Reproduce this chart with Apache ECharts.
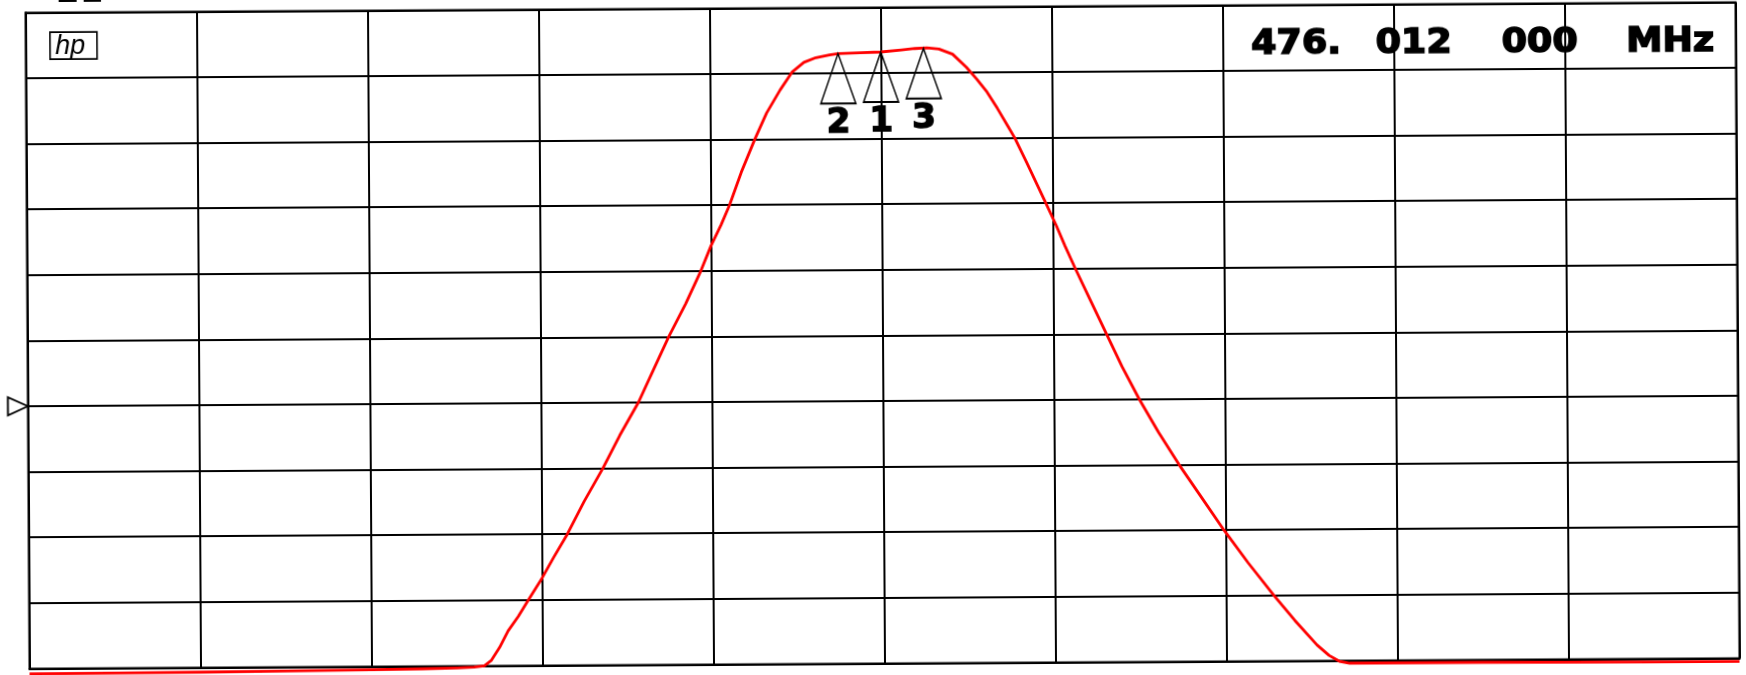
<!DOCTYPE html>
<html>
<head>
<meta charset="utf-8">
<script src="https://cdn.jsdelivr.net/npm/echarts@6/dist/echarts.min.js"></script>
<style>
html,body{margin:0;padding:0;background:#fff;overflow:hidden;width:1746px;height:675px;}
#c{position:absolute;left:-20px;top:-20px;width:1786px;height:715px;transform-origin:902.5px 355.4px;transform:rotate(-0.35deg);}
</style>
</head>
<body>
<div id="c"></div>
<script>
// Trace (x in horizontal divisions 0..10, y in vertical divisions 0..10)
var traceX = [0, 0.5, 1, 1.5, 2, 2.3, 2.5, 2.6, 2.66, 2.7, 2.75, 2.8, 2.86, 2.92, 3.0, 3.07, 3.15, 3.25, 3.36, 3.46, 3.57, 3.66, 3.75, 3.85, 3.94, 4.0, 4.06, 4.11, 4.18, 4.26, 4.33, 4.41, 4.48, 4.55, 4.62, 4.7, 4.75, 4.88, 5.0, 5.12, 5.2, 5.27, 5.34, 5.42, 5.5, 5.56, 5.62, 5.68, 5.74, 5.78, 5.85, 5.96, 6.02, 6.07, 6.13, 6.22, 6.31, 6.4, 6.5, 6.61, 6.73, 6.86, 6.99, 7.13, 7.28, 7.4, 7.53, 7.6, 7.66, 7.72, 8, 8.5, 9, 9.5, 10];
var traceY = [-0.08, -0.075, -0.07, -0.06, -0.05, -0.04, -0.03, -0.02, 0.0, 0.08, 0.28, 0.53, 0.75, 1.0, 1.33, 1.65, 2.0, 2.5, 3.0, 3.5, 4.0, 4.5, 5.0, 5.5, 6.0, 6.38, 6.7, 7.0, 7.5, 8.0, 8.4, 8.75, 9.02, 9.17, 9.24, 9.28, 9.30, 9.31, 9.32, 9.35, 9.37, 9.38, 9.36, 9.28, 9.08, 8.9, 8.7, 8.45, 8.18, 8.0, 7.62, 7.0, 6.66, 6.35, 6.0, 5.5, 5.0, 4.5, 4.0, 3.5, 3.0, 2.5, 2.0, 1.5, 1.0, 0.62, 0.24, 0.08, -0.01, -0.04, -0.04, -0.04, -0.045, -0.05, -0.05];

// Markers
var markerNames = ['2', '1', '3'];
var markerX = [4.75, 5.0, 5.25];
var markerY = [9.30, 9.32, 9.37];

// Reference level
var refLevel = 4;

// Axis extents (divisions)
var xMin = 0, xMax = 10, xStep = 1;
var yMin = 0, yMax = 10, yStep = 1;

// Annotation texts
var freqParts = ['476.', '012', '000', 'MHz'];
var topText = '21';
var logoText = 'hp';

var trace = traceX.map(function (x, i) { return [x, traceY[i]]; });
var markers = markerX.map(function (x, i) { return { name: markerNames[i], value: [x, markerY[i]] }; });

var chart = echarts.init(document.getElementById('c'), null, { renderer: 'canvas' });

var bigFont = 'bold 34px "DejaVu Sans"';
var freqX = [1273, 1397.5, 1523.5, 1648];

var graphics = [
  { type: 'text', x: 78, y: 7.8, style: { text: topText, font: bigFont, fill: '#000', align: 'left', verticalAlign: 'middle' } },
  { type: 'rect', shape: { x: 71.8, y: 47.1, width: 47, height: 27 }, style: { fill: 'none', stroke: '#000', lineWidth: 1.6 } },
  { type: 'text', x: 77, y: 61, style: { text: logoText, font: 'italic 27px "Liberation Sans"', fill: '#000', align: 'left', verticalAlign: 'middle' } }
];
freqParts.forEach(function (t, i) {
  graphics.push({ type: 'text', x: freqX[i], y: 67.5, scaleX: 1.07, style: { text: t, font: bigFont, fill: '#000', stroke: '#000', lineWidth: 1.6, align: 'left', verticalAlign: 'middle' } });
});

var axisCommon = {
  type: 'value',
  axisLabel: { show: false },
  axisTick: { show: false },
  axisLine: { show: true, lineStyle: { color: '#000', width: 2 } },
  splitLine: { show: true, lineStyle: { color: '#000', width: 2 } }
};

chart.setOption({
  animation: false,
  backgroundColor: '#fff',
  grid: { left: 47.5, top: 27.4, width: 1710, height: 656, show: true, borderColor: '#000', borderWidth: 2, backgroundColor: 'transparent' },
  xAxis: Object.assign({}, axisCommon, { min: xMin, max: xMax, interval: xStep }),
  yAxis: Object.assign({}, axisCommon, { min: yMin, max: yMax, interval: yStep }),
  graphic: graphics,
  series: [
    {
      type: 'line',
      data: trace,
      showSymbol: false,
      clip: false,
      smooth: false,
      z: 3,
      lineStyle: { color: '#ff0000', width: 2.8, join: 'round' }
    },
    {
      type: 'scatter',
      data: markers,
      clip: false,
      z: 4,
      symbol: 'triangle',
      symbolSize: [35, 50],
      symbolOffset: [0, 25],
      itemStyle: { color: 'rgba(0,0,0,0)', borderColor: '#000', borderWidth: 1.6, opacity: 1 },
      label: {
        show: true,
        position: 'bottom',
        distance: 2,
        formatter: function (p) { return p.name; },
        color: '#000',
        opacity: 1,
        fontFamily: 'DejaVu Sans',
        fontWeight: 'bold',
        fontSize: 34,
        textBorderColor: '#000',
        textBorderWidth: 1.5
      }
    },
    {
      type: 'scatter',
      data: [[xMin, refLevel]],
      clip: false,
      z: 4,
      symbol: 'triangle',
      symbolRotate: -90,
      symbolSize: [18, 20],
      symbolOffset: [-10, 0],
      itemStyle: { color: 'rgba(0,0,0,0)', borderColor: '#000', borderWidth: 1.8, opacity: 1 }
    }
  ]
});
</script>
</body>
</html>
